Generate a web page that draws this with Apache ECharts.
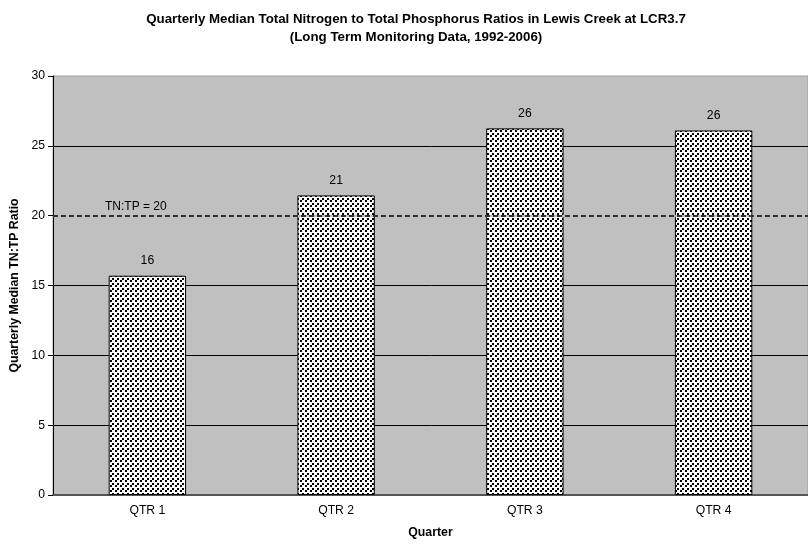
<!DOCTYPE html>
<html>
<head>
<meta charset="utf-8">
<script src="https://cdn.jsdelivr.net/npm/echarts@6/dist/echarts.min.js"></script>
<style>html,body{margin:0;padding:0;background:#fff}#c{width:808px;height:544px}</style>
</head>
<body>
<div id="c"></div>
<script>
const categories = ['QTR 1', 'QTR 2', 'QTR 3', 'QTR 4'];
const medianRatios = [15.7, 21.45, 26.25, 26.1];
const referenceRatio = 20;
const referenceLabel = 'TN:TP = 20';
const yTicks = [0, 5, 10, 15, 20, 25, 30];
const titleText = 'Quarterly Median Total Nitrogen to Total Phosphorus Ratios in Lewis Creek at LCR3.7\n(Long Term Monitoring Data, 1992-2006)';

function makePattern() {
  const c = document.createElement('canvas');
  c.width = 5; c.height = 5;
  const g = c.getContext('2d');
  g.fillStyle = '#ffffff'; g.fillRect(0, 0, 5, 5);
  g.fillStyle = '#000000';
  g.fillRect(0, 0, 2, 2);
  g.fillRect(2, 3, 2, 2);
  return c;
}

const chart = echarts.init(document.getElementById('c'), null, {renderer: 'canvas'});
const font = 'Liberation Sans, Arial, sans-serif';
chart.setOption({
  animation: false,
  backgroundColor: '#ffffff',
  textStyle: {fontFamily: font},
  title: {
    text: titleText,
    left: 411, top: 5, textAlign: 'center',
    textStyle: {fontSize: 13.3, fontWeight: 'bold', color: '#000', lineHeight: 18, fontFamily: font}
  },
  grid: {left: 53, right: 0, top: 76, bottom: 48, containLabel: false,
         show: true, backgroundColor: '#c0c0c0', borderWidth: 1, borderColor: '#a0a0a0'},
  xAxis: {
    type: 'category', data: categories,
    name: 'Quarter', nameLocation: 'middle', nameGap: 32,
    nameTextStyle: {fontSize: 12.3, fontWeight: 'bold', color: '#000', fontFamily: font},
    axisLine: {lineStyle: {color: '#555', width: 2}},
    axisTick: {show: false},
    axisLabel: {fontSize: 12.2, color: '#000', margin: 10, fontFamily: font}
  },
  yAxis: {
    type: 'value', min: yTicks[0], max: yTicks[yTicks.length - 1], interval: 5,
    name: 'Quarterly Median TN:TP Ratio', nameLocation: 'middle', nameGap: 32,
    nameTextStyle: {fontSize: 12.3, fontWeight: 'bold', color: '#000', fontFamily: font},
    axisLine: {show: true, lineStyle: {color: '#000', width: 1}},
    axisTick: {show: true, length: 5, lineStyle: {color: '#000'}},
    axisLabel: {fontSize: 12.2, color: '#000', margin: 8, fontFamily: font},
    splitLine: {show: true, showMaxLine: false, showMinLine: false, lineStyle: {color: '#000', width: 1}}
  },
  series: [{
    type: 'bar',
    data: medianRatios,
    barWidth: '41%',
    itemStyle: {color: {image: makePattern(), repeat: 'repeat'}, borderColor: '#000', borderWidth: 1},
    label: {show: true, position: 'top', distance: 9, fontSize: 12.2, color: '#000', fontFamily: font,
            formatter: p => Math.round(p.value)},
    markLine: {
      silent: true, symbol: 'none',
      data: [
        {yAxis: referenceRatio, lineStyle: {color: '#c0c0c0', width: 2, type: 'solid'}, label: {show: false}},
        {yAxis: referenceRatio, lineStyle: {color: '#000', width: 1.5, type: [5, 3]},
         label: {show: true, formatter: referenceLabel, position: 'insideStartTop', distance: [52, 3],
                 fontSize: 12, color: '#000', fontFamily: font}}
      ]
    }
  }]
});
</script>
</body>
</html>
